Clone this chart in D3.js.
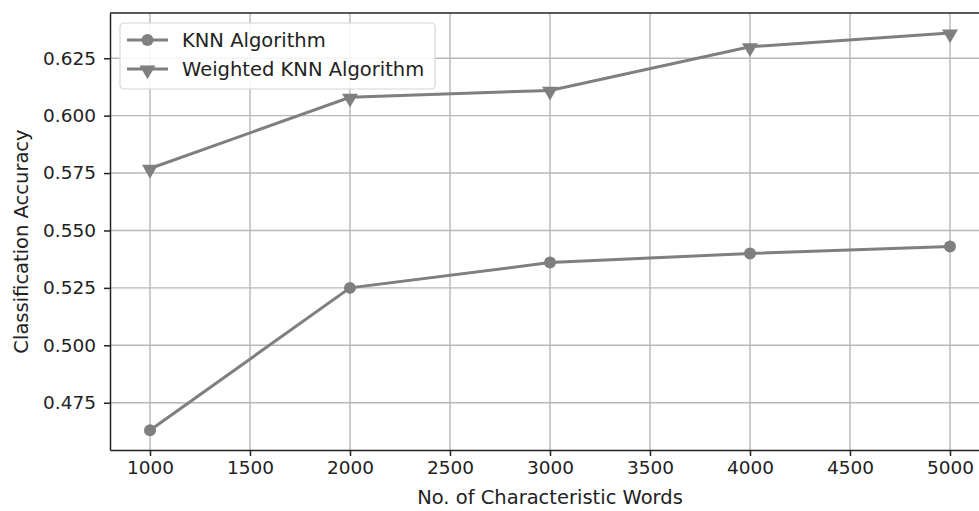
<!DOCTYPE html>
<html>
<head>
<meta charset="utf-8">
<script src="https://cdn.jsdelivr.net/npm/d3@7"></script>
<style>
  body { margin: 0; background: #fff; }
  .grid line { stroke: #b8b8b8; stroke-width: 1.4px; }
  .axis path, .axis line { stroke: #222; stroke-width: 1.5px; }
</style>
</head>
<body>
<svg id="chart" width="979" height="511"></svg>
<script>
const wordCounts = [1000, 2000, 3000, 4000, 5000];
const knnAccuracy = [0.463, 0.525, 0.536, 0.540, 0.543];
const weightedAccuracy = [0.577, 0.608, 0.611, 0.630, 0.636];
const xTicks = [1000, 1500, 2000, 2500, 3000, 3500, 4000, 4500, 5000];
const yTicks = [0.475, 0.500, 0.525, 0.550, 0.575, 0.600, 0.625];

const fontFamily = "DejaVu Sans, sans-serif";
const textColor = "#222";

const svg = d3.select("#chart");
const margin = {top: 13, right: -11, bottom: 61, left: 110};
const width = 979 - margin.left - margin.right;
const height = 511 - margin.top - margin.bottom;
const g = svg.append("g").attr("transform", `translate(${margin.left},${margin.top})`);

const x = d3.scaleLinear().domain([800, 5200]).range([0, width]);
const y = d3.scaleLinear().domain([0.4544, 0.6447]).range([height, 0]);

// grid
g.append("g").attr("class", "grid")
  .selectAll("line").data(xTicks).join("line")
  .attr("x1", d => x(d)).attr("x2", d => x(d)).attr("y1", 0).attr("y2", height);
g.append("g").attr("class", "grid")
  .selectAll("line").data(yTicks).join("line")
  .attr("x1", 0).attr("x2", width).attr("y1", d => y(d)).attr("y2", d => y(d));

// axes
const xAxisG = g.append("g").attr("class", "axis")
  .attr("transform", `translate(0,${height})`)
  .call(d3.axisBottom(x).tickValues(xTicks).tickFormat(d3.format("d")).tickSize(6).tickPadding(5).tickSizeOuter(0));
const yAxisG = g.append("g").attr("class", "axis")
  .call(d3.axisLeft(y).tickValues(yTicks).tickFormat(d3.format(".3f")).tickSize(6).tickPadding(8).tickSizeOuter(0));
[xAxisG, yAxisG].forEach(a => a.selectAll("text")
  .style("font-family", fontFamily).style("font-size", "18.5px").attr("fill", textColor));
g.append("line").attr("x1", 0).attr("x2", width).attr("y1", 0).attr("y2", 0)
  .attr("stroke", "#222").attr("stroke-width", 1.5);

// axis labels
svg.append("text").attr("x", margin.left + width / 2).attr("y", 504)
  .attr("text-anchor", "middle").style("font-family", fontFamily).style("font-size", "19.5px").attr("fill", textColor)
  .text("No. of Characteristic Words");
svg.append("text").attr("transform", `translate(28,${margin.top + height / 2 + 10}) rotate(-90)`)
  .attr("text-anchor", "middle").style("font-family", fontFamily).style("font-size", "19.5px").attr("fill", textColor)
  .text("Classification Accuracy");

const lineColor = "#7f7f7f";
const line = d3.line().x(d => x(d[0])).y(d => y(d[1]));
const knnData = wordCounts.map((w, i) => [w, knnAccuracy[i]]);
const weightedData = wordCounts.map((w, i) => [w, weightedAccuracy[i]]);

g.append("path").datum(knnData).attr("d", line)
  .attr("fill", "none").attr("stroke", lineColor).attr("stroke-width", 3);
g.append("path").datum(weightedData).attr("d", line)
  .attr("fill", "none").attr("stroke", lineColor).attr("stroke-width", 3);

g.selectAll(".pt-knn").data(knnData).join("circle").attr("class", "pt-knn")
  .attr("cx", d => x(d[0])).attr("cy", d => y(d[1])).attr("r", 6).attr("fill", lineColor);

const tri = d3.symbol().type(d3.symbolTriangle).size(110);
g.selectAll(".pt-w").data(weightedData).join("path").attr("class", "pt-w")
  .attr("d", tri).attr("fill", lineColor)
  .attr("transform", d => `translate(${x(d[0])},${y(d[1]) + 1}) rotate(180)`);

// legend
const legend = svg.append("g").attr("transform", "translate(120,23)");
legend.append("rect").attr("width", 315).attr("height", 66).attr("rx", 4)
  .attr("fill", "#fff").attr("fill-opacity", 0.85).attr("stroke", "#d6d6d6").attr("stroke-width", 1.2);
const items = [{label: "KNN Algorithm", shape: "circle"}, {label: "Weighted KNN Algorithm", shape: "tri"}];
items.forEach((it, i) => {
  const cy = 17 + i * 29;
  legend.append("line").attr("x1", 7).attr("x2", 48).attr("y1", cy).attr("y2", cy)
    .attr("stroke", lineColor).attr("stroke-width", 3);
  if (it.shape === "circle") {
    legend.append("circle").attr("cx", 27.5).attr("cy", cy).attr("r", 6).attr("fill", lineColor);
  } else {
    legend.append("path").attr("d", tri).attr("fill", lineColor)
      .attr("transform", `translate(27.5,${cy + 1}) rotate(180)`);
  }
  legend.append("text").attr("x", 62).attr("y", cy + 7).style("font-family", fontFamily)
    .style("font-size", "19.5px").attr("fill", textColor).text(it.label);
});
</script>
</body>
</html>
